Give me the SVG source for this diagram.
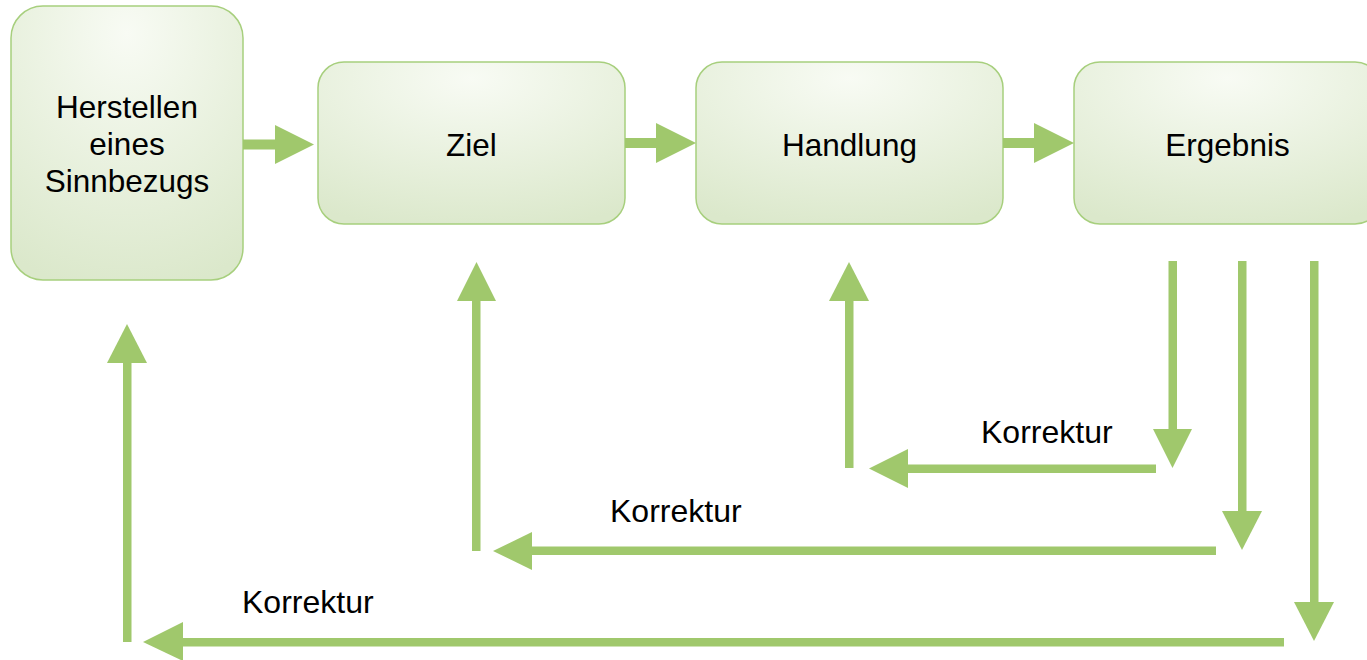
<svg xmlns="http://www.w3.org/2000/svg" width="1367" height="660" viewBox="0 0 1367 660">
  <defs>
    <radialGradient id="boxFill" cx="0.5" cy="0.1" r="0.95" fx="0.5" fy="0.1">
      <stop offset="0" stop-color="#f8fbf4"/>
      <stop offset="1" stop-color="#dbe8cb"/>
    </radialGradient>
  </defs>
  <style>
    .box { fill: url(#boxFill); stroke: #a7cf7d; stroke-width: 1.5; }
    .label { font-family: "Liberation Sans", Arial, sans-serif; font-size: 31.5px; fill: #000; text-anchor: middle; }
    .note { font-family: "Liberation Sans", Arial, sans-serif; font-size: 32px; fill: #000; }
    .shaft { fill: #a0c86c; }
    .head { fill: #a0c86c; }
  </style>
  <rect width="1367" height="660" fill="#ffffff"/>

  <!-- process steps -->
  <g id="node-sinnbezug">
    <rect class="box" x="11" y="6" width="232" height="274" rx="32" ry="32"/>
    <text class="label" x="127" y="118">Herstellen</text>
    <text class="label" x="127" y="155">eines</text>
    <text class="label" x="127" y="192">Sinnbezugs</text>
  </g>
  <g id="node-ziel">
    <rect class="box" x="318" y="62" width="307" height="162" rx="26" ry="26"/>
    <text class="label" x="471.5" y="156">Ziel</text>
  </g>
  <g id="node-handlung">
    <rect class="box" x="696" y="62" width="307" height="162" rx="26" ry="26"/>
    <text class="label" x="849.5" y="156">Handlung</text>
  </g>
  <g id="node-ergebnis">
    <rect class="box" x="1074" y="62" width="307" height="162" rx="26" ry="26"/>
    <text class="label" x="1227.5" y="156">Ergebnis</text>
  </g>

  <!-- connectors -->
  <g id="connectors">
    <!-- forward flow -->
    <rect class="shaft" x="243" y="139.5" width="33" height="10"/>
    <polygon class="head" points="275,125 314,144.5 275,164"/>
    <rect class="shaft" x="625" y="138" width="32" height="10"/>
    <polygon class="head" points="656,123 696,143 656,163"/>
    <rect class="shaft" x="1003" y="138" width="32" height="10"/>
    <polygon class="head" points="1034,123 1074,143 1034,163"/>

    <!-- Korrektur: Ergebnis -> Handlung -->
    <rect class="shaft" x="1168.5" y="261" width="8.5" height="169"/>
    <polygon class="head" points="1153,429 1192,429 1172.5,468"/>
    <rect class="shaft" x="907" y="464.5" width="249" height="8.5"/>
    <polygon class="head" points="908,449 869,468.5 908,488"/>
    <rect class="shaft" x="845" y="300" width="8.5" height="168"/>
    <polygon class="head" points="829,301 849,262 869,301"/>

    <!-- Korrektur: Ergebnis -> Ziel -->
    <rect class="shaft" x="1238" y="261" width="8.5" height="251"/>
    <polygon class="head" points="1222,511 1262,511 1242,550"/>
    <rect class="shaft" x="531" y="546.5" width="685" height="8.5"/>
    <polygon class="head" points="532,532 493,551 532,570"/>
    <rect class="shaft" x="472" y="300" width="8.5" height="251"/>
    <polygon class="head" points="457,301 476.5,262 496,301"/>

    <!-- Korrektur: Ergebnis -> Herstellen eines Sinnbezugs -->
    <rect class="shaft" x="1310" y="261" width="8.5" height="342"/>
    <polygon class="head" points="1294,602 1334,602 1314,641"/>
    <rect class="shaft" x="182" y="638" width="1102" height="8.5"/>
    <polygon class="head" points="183,622 143,642 183,661"/>
    <rect class="shaft" x="123" y="362" width="8.5" height="280"/>
    <polygon class="head" points="107,363 127,324 147,363"/>

    <text class="note" x="981" y="443">Korrektur</text>
    <text class="note" x="610" y="522">Korrektur</text>
    <text class="note" x="242" y="613">Korrektur</text>
  </g>
</svg>
